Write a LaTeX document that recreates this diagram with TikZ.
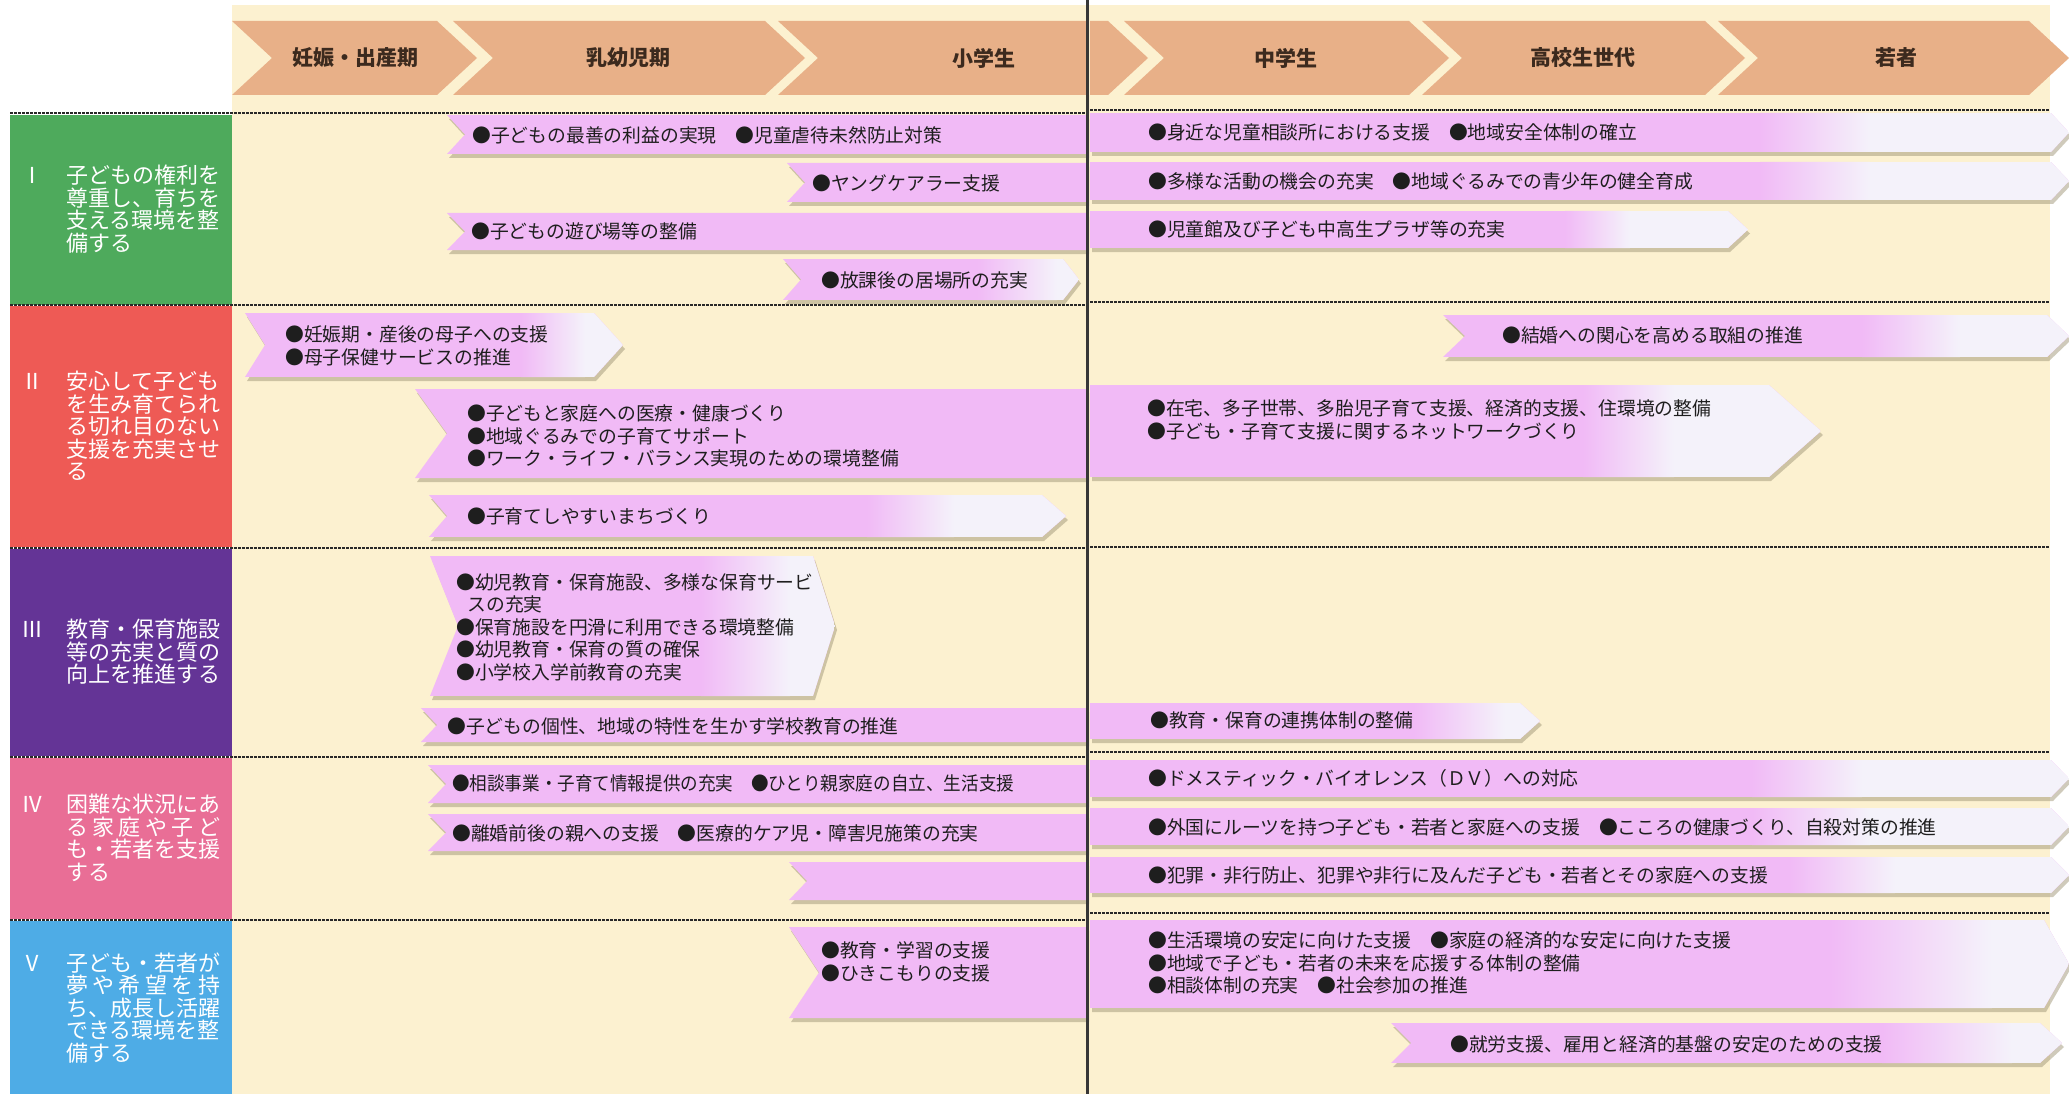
\documentclass[tikz,border=0pt]{standalone}
\usepackage{fontspec}
\usepackage{graphicx}
\newfontfamily\jp{Noto Sans CJK JP}
\definecolor{cream}{RGB}{252,241,208}
\definecolor{chevc}{RGB}{232,176,136}
\definecolor{headc}{RGB}{60,42,30}
\definecolor{itemc}{RGB}{30,30,30}
\definecolor{catI}{RGB}{78,170,92}
\definecolor{catII}{RGB}{238,90,85}
\definecolor{catIII}{RGB}{100,52,150}
\definecolor{catIV}{RGB}{233,110,150}
\definecolor{catV}{RGB}{78,172,230}
\definecolor{ribpink}{RGB}{241,186,246}
\definecolor{ribwhite}{RGB}{244,242,250}
\definecolor{shadowc}{RGB}{160,150,120}
\definecolor{sepc}{RGB}{40,40,40}
\definecolor{vlinec}{RGB}{55,55,55}
\newsavebox\fitbox
\newcommand\fitw[2]{\sbox\fitbox{#2}\pgfmathsetmacro\fitr{#1/\the\wd\fitbox}\scalebox{\fitr}[1]{\usebox\fitbox}}
\newcommand\catind{\hspace*{44pt}}
\newcommand\catnum[1]{\makebox[20pt][c]{#1}\hspace{24pt}}
% ribbon with fade: xL yT xR yB notch tip fadeStart fadeEnd
\newcommand\ribbon[8]{%
  \fill[shadowc, opacity=.5] ({#1+2},{#2+4}) -- ({#3-#6+2},{#2+4}) -- ({#3+2},{(#2+#4)/2+4}) -- ({#3-#6+2},{#4+4}) -- ({#1+2},{#4+4}) -- ({#1+#5+2},{(#2+#4)/2+4}) -- cycle;
  \begin{scope}
    \clip (#1,#2) -- ({#3-#6},#2) -- (#3,{(#2+#4)/2}) -- ({#3-#6},#4) -- (#1,#4) -- ({#1+#5},{(#2+#4)/2}) -- cycle;
    \fill[ribpink] (#1,#2) rectangle (#3,#4);
    \shade[left color=ribpink, right color=ribwhite] (#7,#2) rectangle (#8,#4);
    \fill[ribwhite] (#8,#2) rectangle (#3,#4);
  \end{scope}}
% solid ribbon: xL yT xR yB notch tip
\newcommand\ribbonS[6]{%
  \fill[shadowc, opacity=.5] ({#1+2},{#2+4}) -- ({#3-#6+2},{#2+4}) -- ({#3+2},{(#2+#4)/2+4}) -- ({#3-#6+2},{#4+4}) -- ({#1+2},{#4+4}) -- ({#1+#5+2},{(#2+#4)/2+4}) -- cycle;
  \fill[ribpink] (#1,#2) -- ({#3-#6},#2) -- (#3,{(#2+#4)/2}) -- ({#3-#6},#4) -- (#1,#4) -- ({#1+#5},{(#2+#4)/2}) -- cycle;}
\tikzset{
  itemtext/.style={font=\jp\fontsize{18.8}{22.5}\selectfont, text=itemc, inner sep=0pt, anchor=west, align=left},
  cattext/.style={font=\jp\fontsize{22}{22.5}\selectfont, text=white, inner sep=0pt, anchor=west, align=left},
  headtext/.style={font=\jp\bfseries\fontsize{21}{24}\selectfont, text=headc, inner sep=0pt},
  sepline/.style={draw=sepc, line width=1.2pt, dash pattern=on 2.5pt off 1.5pt},
  chevshape/.style={fill=chevc},
}
\begin{document}
\begin{tikzpicture}[x=1pt,y=-1pt]
\useasboundingbox (0,0) rectangle (2069,1094);
\fill[white] (0,0) rectangle (2069,1094);
\fill[cream] (232,5) rectangle (2050,1094);
% category boxes
\fill[catI] (10,115) rectangle (232,305);
\fill[catII] (10,306) rectangle (232,547);
\fill[catIII] (10,549) rectangle (232,756);
\fill[catIV] (10,758) rectangle (232,919);
\fill[catV] (10,921) rectangle (232,1094);
% header chevrons
\fill[chevshape] (232,21) -- (437,21) -- (477,58) -- (437,95) -- (232,95) -- (272,58) -- cycle;
\fill[chevshape] (453,21) -- (765,21) -- (805,58) -- (765,95) -- (453,95) -- (493,58) -- cycle;
\fill[chevshape] (778,21) -- (1087,21) -- (1087,95) -- (778,95) -- (818,58) -- cycle;
\fill[chevshape] (1090,21) -- (1108,21) -- (1148,58) -- (1108,95) -- (1090,95) -- cycle;
\fill[chevshape] (1124,21) -- (1409,21) -- (1449,58) -- (1409,95) -- (1124,95) -- (1164,58) -- cycle;
\fill[chevshape] (1422,21) -- (1705,21) -- (1745,58) -- (1705,95) -- (1422,95) -- (1462,58) -- cycle;
\fill[chevshape] (1718,21) -- (2029,21) -- (2069,58) -- (2029,95) -- (1718,95) -- (1758,58) -- cycle;
\node[headtext] (h1) at (355,58) {妊娠・出産期};
\node[headtext] (h2) at (628,58) {乳幼児期};
\node[headtext] (h3) at (984,58) {小学生};
\node[headtext] (h4) at (1286,58) {中学生};
\node[headtext] (h5) at (1583,58) {高校生世代};
\node[headtext] (h6) at (1896,58) {若者};
% separators
\foreach \yy in {113,305,548,757,920} \draw[sepline] (10,\yy) -- (1087,\yy);
\foreach \yy in {110,302,547,752,913} \draw[sepline] (1090,\yy) -- (2050,\yy);
% ribbons left half
\ribbonS{447}{115}{1087}{154}{18}{0}
\ribbonS{787}{163}{1087}{202}{18}{0}
\ribbonS{447}{213}{1087}{250}{18}{0}
\ribbon{783}{259}{1079}{300}{18}{16}{977}{1057}
\ribbon{245}{313}{623}{377}{20}{29}{521}{585}
\ribbonS{415}{389}{1087}{478}{32}{0}
\ribbon{429}{495}{1066}{537}{18}{24}{867}{954}
\ribbon{430}{556}{835}{696}{28}{22}{701}{790}
\ribbonS{421}{708}{1087}{742}{16}{0}
\ribbonS{428}{765}{1087}{803}{18}{0}
\ribbonS{428}{814}{1087}{851}{18}{0}
\ribbonS{789}{862}{1087}{900}{18}{0}
\ribbonS{789}{927}{1087}{1018}{30}{0}
% ribbons right half
\ribbon{1090}{113}{2069}{152}{0}{18}{1760}{1870}
\ribbon{1090}{162}{2069}{200}{0}{18}{1760}{1870}
\ribbon{1090}{211}{1748}{248}{0}{20}{1565}{1630}
\ribbon{1443}{315}{2069}{357}{22}{22}{1862}{1960}
\ribbon{1090}{385}{1821}{477}{0}{52}{1583}{1674}
\ribbon{1090}{703}{1540}{739}{0}{20}{1414}{1505}
\ribbon{1090}{760}{2069}{797}{0}{18}{1752}{1862}
\ribbon{1090}{808}{2069}{845}{0}{18}{1752}{1870}
\ribbon{1090}{857}{2069}{893}{0}{18}{1790}{1895}
\ribbon{1090}{920}{2069}{1008}{0}{25}{1830}{1992}
\ribbon{1391}{1023}{2062}{1063}{20}{22}{1882}{2012}
% vertical divider
\coordinate (vtop) at (1087,0);
\coordinate (vbot) at (1087,1094);
\draw[vlinec, line width=3pt] (vtop) -- (vbot);
% category texts
\node[cattext] (cat1) at (22,209) {\catnum{Ⅰ}子どもの権利を\\\catind 尊重し、育ちを\\\catind 支える環境を整\\\catind 備する};
\node[cattext] (cat2) at (22,426) {\catnum{Ⅱ}安心して子ども\\\catind を生み育てられ\\\catind る切れ目のない\\\catind 支援を充実させ\\\catind る};
\node[cattext] (cat3) at (22,652) {\catnum{Ⅲ}教育・保育施設\\\catind 等の充実と質の\\\catind 向上を推進する};
\node[cattext] (cat4) at (22,838) {\catnum{Ⅳ}困難な状況にあ\\\catind\makebox[154pt][s]{る\hfill 家\hfill 庭\hfill や\hfill 子\hfill ど}\\\catind も・若者を支援\\\catind する};
\node[cattext] (cat5) at (22,1008) {\catnum{Ⅴ}子ども・若者が\\\catind\makebox[154pt][s]{夢\hfill や\hfill 希\hfill 望\hfill を\hfill 持}\\\catind ち、成長し活躍\\\catind できる環境を整\\\catind 備する};
% item texts left
\node[itemtext] (t1a) at (472,135) {●子どもの最善の利益の実現　●児童虐待未然防止対策};
\node[itemtext] (t1b) at (812,183) {●ヤングケアラー支援};
\node[itemtext] (t1c) at (471,231) {●子どもの遊び場等の整備};
\node[itemtext] (t1d) at (821,280) {●放課後の居場所の充実};
\node[itemtext] (t2a) at (285,346) {●妊娠期・産後の母子への支援\\●母子保健サービスの推進};
\node[itemtext] (t2c) at (467,436) {●子どもと家庭への医療・健康づくり\\●地域ぐるみでの子育てサポート\\●ワーク・ライフ・バランス実現のための環境整備};
\node[itemtext] (t2d) at (467,516) {●子育てしやすいまちづくり};
\node[itemtext] (t3a) at (456,627) {●幼児教育・保育施設、多様な保育サービ\\\hspace*{0.6em}スの充実\\●保育施設を円滑に利用できる環境整備\\●幼児教育・保育の質の確保\\●小学校入学前教育の充実};
\node[itemtext] (t3b) at (447,726) {●子どもの個性、地域の特性を生かす学校教育の推進};
\node[itemtext] (t4a) at (452,783) {\fitw{562}{●相談事業・子育て情報提供の充実　●ひとり親家庭の自立、生活支援}};
\node[itemtext] (t4b) at (452,833) {●離婚前後の親への支援　●医療的ケア児・障害児施策の充実};
\node[itemtext] (t5a) at (821,962) {●教育・学習の支援\\●ひきこもりの支援};
% item texts right
\node[itemtext] (r1a) at (1148,132) {●身近な児童相談所における支援　●地域安全体制の確立};
\node[itemtext] (r1b) at (1148,181) {●多様な活動の機会の充実　●地域ぐるみでの青少年の健全育成};
\node[itemtext] (r1c) at (1148,229) {●児童館及び子ども中高生プラザ等の充実};
\node[itemtext] (r2b) at (1502,335) {●結婚への関心を高める取組の推進};
\node[itemtext] (r2c) at (1147,420) {●在宅、多子世帯、多胎児子育て支援、経済的支援、住環境の整備\\●子ども・子育て支援に関するネットワークづくり};
\node[itemtext] (r3b) at (1150,720) {●教育・保育の連携体制の整備};
\node[itemtext] (r4a) at (1148,778) {●ドメスティック・バイオレンス（ＤＶ）への対応};
\node[itemtext] (r4b) at (1148,827) {●外国にルーツを持つ子ども・若者と家庭への支援　●こころの健康づくり、自殺対策の推進};
\node[itemtext] (r4c) at (1148,875) {●犯罪・非行防止、犯罪や非行に及んだ子ども・若者とその家庭への支援};
\node[itemtext] (r5a) at (1148,963) {●生活環境の安定に向けた支援　●家庭の経済的な安定に向けた支援\\●地域で子ども・若者の未来を応援する体制の整備\\●相談体制の充実　●社会参加の推進};
\node[itemtext] (r5b) at (1450,1044) {●就労支援、雇用と経済的基盤の安定のための支援};
\end{tikzpicture}
\end{document}
